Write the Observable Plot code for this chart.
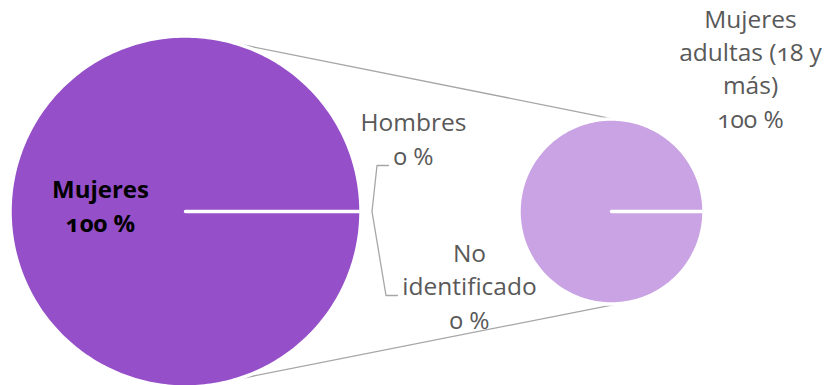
<!DOCTYPE html>
<html><head><meta charset="utf-8">
<script src="https://cdn.jsdelivr.net/npm/d3@7"></script>
<script src="https://cdn.jsdelivr.net/npm/@observablehq/plot@0.6"></script>
<style>
html,body{margin:0;padding:0;background:#fff}
#chart svg{display:block}
</style>
</head><body><div id="chart"></div>
<script>
// ---------- DATA ----------
const mainCategories = ["Mujeres", "Hombres", "No identificado"];
const mainValues = [100, 0, 0];          // % of total
const subCategories = ["Mujeres adultas (18 y más)"];
const subValues = [100];                 // % of "Mujeres"
const mainColors = ["#954FC8", "#954FC8", "#954FC8"];
const subColors = ["#C9A3E3"];

// ---------- LAYOUT ----------
const W = 825, H = 385;
const big = {cx: 185, cy: 211, r: 175.5};
const small = {cx: 611, cy: 211, r: 92.5};
const startAngle = Math.PI / 2;          // 3 o'clock, as in the reference
const labelPos = {
  "Mujeres": {x: 100, y: 231, bold: true, lines: ["Mujeres"]},
  "Hombres": {x: 413, y: 164, lines: ["Hombres"]},
  "No identificado": {x: 469, y: 328, lines: ["No", "identificado"]},
  "Mujeres adultas (18 y más)": {x: 750, y: 127, lines: ["Mujeres", "adultas (18 y", "más)"]}
};

function slices(pie, cats, vals, tag) {
  const arcs = d3.pie().sort(null).startAngle(startAngle).endAngle(startAngle + 2 * Math.PI)(vals);
  const pts = [];
  arcs.forEach((a, i) => {
    if (a.endAngle - a.startAngle <= 0) return;
    const key = tag + ":" + cats[i];
    pts.push({key, cat: cats[i], x: pie.cx, y: pie.cy});
    const n = Math.max(2, Math.ceil((a.endAngle - a.startAngle) / (Math.PI / 180)));
    for (let k = 0; k <= n; k++) {
      const t = a.startAngle + (a.endAngle - a.startAngle) * k / n;
      pts.push({key, cat: cats[i], x: pie.cx + pie.r * Math.sin(t), y: pie.cy - pie.r * Math.cos(t)});
    }
    pts.push({key, cat: cats[i], x: pie.cx, y: pie.cy});
  });
  return pts;
}
const slicePts = [...slices(big, mainCategories, mainValues, "main"), ...slices(small, subCategories, subValues, "sub")];

// connector lines between the two pies
const deg = Math.PI / 180;
const conn = [
  {x1: big.cx + big.r * Math.cos(-73 * deg), y1: big.cy + big.r * Math.sin(-73 * deg),
   x2: small.cx + small.r * Math.cos(-88.5 * deg), y2: small.cy + small.r * Math.sin(-88.5 * deg)},
  {x1: big.cx + big.r * Math.cos(73 * deg), y1: big.cy + big.r * Math.sin(73 * deg),
   x2: small.cx + small.r * Math.cos(86 * deg), y2: small.cy + small.r * Math.sin(86 * deg)}
];

// leader lines for the zero-size slices
const apex = {x: big.cx + big.r + 11, y: big.cy};
const hL = labelPos["Hombres"], nL = labelPos["No identificado"];
const leader = [
  {x: hL.x - 25, y: hL.y + 1}, {x: apex.x + 5, y: hL.y + 1}, apex,
  {x: apex.x + 14, y: nL.y - 33}, {x: nL.x - 72, y: nL.y - 33}
];

// labels
const allCats = [...mainCategories, ...subCategories];
const allVals = [...mainValues, ...subValues];
const labels = allCats.map((c, i) => ({
  cat: c,
  x: labelPos[c].x, y: labelPos[c].y, bold: !!labelPos[c].bold,
  text: [...labelPos[c].lines, `${allVals[i]} %`].join("\n")
}));

const chart = Plot.plot({
  width: W, height: H, margin: 0,
  x: {domain: [0, W], range: [0, W], axis: null},
  y: {domain: [0, H], range: [0, H], axis: null},
  color: {domain: allCats, range: [...mainColors, ...subColors]},
  style: {fontFamily: "Open Sans, sans-serif", background: "#fff"},
  marks: [
    Plot.link(conn, {x1: "x1", y1: "y1", x2: "x2", y2: "y2", stroke: "#A6A6A6", strokeWidth: 1.3}),
    Plot.line(slicePts, {x: "x", y: "y", z: "key", fill: "cat", stroke: "#fff", strokeWidth: 3.5, strokeLinejoin: "round", strokeLinecap: "round"}),
    Plot.line(leader, {x: "x", y: "y", stroke: "#A6A6A6", strokeWidth: 1.3}),
    Plot.text(labels.filter(d => !d.bold), {x: "x", y: "y", text: "text", fill: "#595959", fontSize: 24.5, lineHeight: 1.36, lineAnchor: "bottom", textAnchor: "middle", fontVariant: "oldstyle-nums"}),
    Plot.text(labels.filter(d => d.bold), {x: "x", y: "y", text: "text", fill: "#000", fontSize: 24, fontWeight: "bold", lineHeight: 1.4, lineAnchor: "bottom", textAnchor: "middle", fontVariant: "oldstyle-nums"})
  ]
});
document.getElementById("chart").appendChild(chart);
</script>
</body></html>
